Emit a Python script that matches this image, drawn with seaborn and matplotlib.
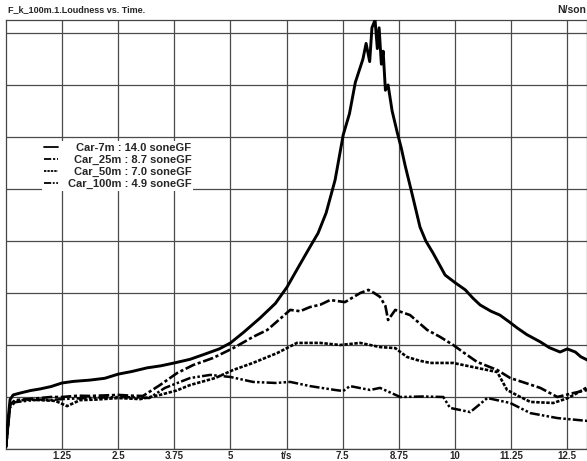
import matplotlib
matplotlib.use("Agg")
import matplotlib.pyplot as plt
import seaborn as sns
import pandas as pd

# ---- data (time in s, loudness in sone) ----
t_7m = [0.0, 0.045, 0.09, 0.16, 0.31, 0.55, 0.76, 1.0, 1.25, 1.5, 1.87, 2.2, 2.5, 2.8, 3.14, 3.45, 3.75,
        4.1, 4.43, 4.75, 5.0, 5.3, 5.66, 6.0, 6.26, 6.5, 6.77, 6.95, 7.13, 7.33, 7.51, 7.65, 7.78, 7.95,
        8.02, 8.1, 8.15, 8.22, 8.27, 8.31, 8.36, 8.4, 8.45, 8.51, 8.6, 8.71, 8.8, 8.89, 9.05, 9.22, 9.35,
        9.51, 9.65, 9.78, 10.0, 10.23, 10.4, 10.56, 10.8, 11.0, 11.2, 11.39, 11.6, 11.9, 12.1, 12.34,
        12.5, 12.68, 12.8, 12.95]
v_7m = [0.08, 1.1, 1.9, 2.08, 2.15, 2.25, 2.31, 2.4, 2.54, 2.6, 2.65, 2.72, 2.88, 2.98, 3.12, 3.2, 3.31,
        3.45, 3.65, 3.85, 4.08, 4.5, 5.04, 5.6, 6.23, 6.96, 7.77, 8.3, 9.08, 10.35, 12.08, 12.9, 14.1, 15.0,
        15.6, 14.9, 16.2, 16.5, 15.4, 16.2, 14.8, 15.3, 13.8, 14.0, 13.0, 12.2, 11.6, 10.9, 9.77, 8.54, 8.0,
        7.54, 7.1, 6.69, 6.4, 6.12, 5.8, 5.54, 5.3, 5.15, 4.9, 4.65, 4.4, 4.12, 3.9, 3.73, 3.85, 3.73,
        3.55, 3.42]

t_25m = [0.0, 0.09, 0.2, 0.5, 0.76, 1.0, 1.25, 1.6, 1.87, 2.2, 2.5, 2.8, 3.05, 3.43, 3.81, 4.17, 4.61,
         5.06, 5.5, 5.82, 6.1, 6.33, 6.55, 6.77, 7.0, 7.22, 7.55, 7.89, 8.07, 8.2, 8.33, 8.45, 8.51, 8.67,
         9.0, 9.2, 9.38, 9.67, 9.96, 10.2, 10.49, 10.94, 11.23, 11.55, 11.9, 12.28, 12.63, 12.95]
v_25m = [0.08, 1.7, 1.88, 1.92, 1.96, 2.0, 2.0, 2.05, 2.04, 2.06, 2.08, 2.05, 2.04, 2.46, 2.92, 3.23, 3.5,
         3.88, 4.31, 4.58, 5.0, 5.35, 5.3, 5.46, 5.55, 5.73, 5.65, 6.0, 6.12, 6.0, 5.85, 5.5, 4.96, 5.35,
         5.15, 4.85, 4.58, 4.31, 4.0, 3.7, 3.35, 3.04, 2.73, 2.55, 2.35, 2.0, 2.15, 2.27]

t_50m = [0.0, 0.09, 0.2, 0.5, 0.76, 1.1, 1.36, 1.65, 2.0, 2.5, 2.99, 3.43, 3.8, 4.1, 4.66, 5.06, 5.5,
         6.04, 6.48, 7.0, 7.44, 7.89, 8.33, 8.67, 8.93, 9.2, 9.45, 9.96, 10.49, 10.94, 11.16, 11.4, 11.68,
         12.19, 12.5, 12.72, 12.95]
v_50m = [0.08, 1.7, 1.85, 1.9, 1.88, 1.85, 1.65, 1.88, 1.9, 1.96, 1.92, 2.08, 2.25, 2.46, 2.73, 3.04, 3.31,
         3.69, 4.08, 4.08, 4.0, 4.08, 3.92, 3.88, 3.54, 3.4, 3.31, 3.31, 3.12, 2.96, 2.27, 2.05, 1.81,
         1.77, 1.95, 2.15, 2.38]

t_100m = [0.0, 0.09, 0.2, 0.5, 0.76, 1.0, 1.25, 1.8, 2.5, 3.0, 3.19, 3.54, 4.1, 4.55, 5.0, 5.5, 6.0, 6.33,
          6.77, 7.33, 7.51, 7.66, 8.11, 8.33, 8.78, 9.3, 9.74, 9.89, 10.34, 10.72, 11.23, 11.68, 12.28,
          12.95]
v_100m = [0.08, 1.6, 1.8, 1.86, 1.9, 1.88, 1.92, 1.96, 2.0, 1.98, 1.96, 2.35, 2.73, 2.85, 2.77, 2.58, 2.54,
          2.58, 2.42, 2.27, 2.23, 2.42, 2.27, 2.35, 2.0, 2.02, 2.0, 1.58, 1.42, 1.96, 1.77, 1.38, 1.19, 1.08]

labels = ["Car-7m : 14.0 soneGF", "Car_25m : 8.7 soneGF", "Car_50m : 7.0 soneGF", "Car_100m : 4.9 soneGF"]
x_ticks = [1.25, 2.5, 3.75, 5, 6.25, 7.5, 8.75, 10, 11.25, 12.5]
x_ticklabels = ["1.25", "2.5", "3.75", "5", "t/s", "7.5", "8.75", "10", "11.25", "12.5"]
y_grid = [0, 2, 4, 6, 8, 10, 12, 14, 16]

sns.set_theme(style="white")
plt.rcParams['font.family'] = ['Liberation Sans', 'DejaVu Sans']

W, H = 587, 461
fig = plt.figure(figsize=(W / 100, H / 100), dpi=100)
ax = fig.add_axes([6 / W, (H - 449) / H, 1 - 6 / W, (449 - 20) / H])

series = [(t_7m, v_7m, '-', 2.1), (t_25m, v_25m, (0, (4, 1.0, 1.2, 1.0)), 1.9),
          (t_50m, v_50m, (0, (1.3, 0.6)), 1.9), (t_100m, v_100m, (0, (4, 0.9, 1, 0.9, 1, 0.9)), 1.8)]
for (t, v, ls, lw), lab in zip(series, labels):
    df = pd.DataFrame({"t": t, "v": v})
    sns.lineplot(data=df, x="t", y="v", ax=ax, color="black", linestyle=ls, linewidth=lw,
                 label=lab, sort=False, estimator=None, zorder=3)

ax.set_xlim(0, 12.94)
ax.set_ylim(0, 16.5)
ax.set_xticks(x_ticks)
ax.set_xticklabels(x_ticklabels, fontsize=7, fontweight='bold')
ax.set_yticks(y_grid)
ax.set_yticklabels([])
ax.tick_params(axis='both', length=0, pad=1.5)
ax.grid(True, color='#4a4a4a', linewidth=0.9)
ax.set_axisbelow(True)
ax.set_xlabel("")
ax.set_ylabel("")
for s in ax.spines.values():
    s.set_color('#444444')
    s.set_linewidth(0.9)

leg = ax.legend(loc='upper left', bbox_to_anchor=(42 / W, 1 - 141 / H), bbox_transform=fig.transFigure,
                frameon=True, facecolor='white', edgecolor='none', framealpha=1, fancybox=False,
                prop={'weight': 'bold', 'size': 8}, handlelength=1.3, handletextpad=0.85,
                labelspacing=0.18, borderpad=0.15, borderaxespad=0)
leg.set_zorder(5)
for h in leg.get_lines():
    h.set_linewidth(1.3)

# right-align the legend texts as in the reference
fig.canvas.draw()
renderer = fig.canvas.get_renderer()
texts = leg.get_texts()
widths = [t.get_window_extent(renderer).width for t in texts]
wmax = max(widths)
for t, w in zip(texts, widths):
    t.set_position((wmax - w, 0))

fig.text(8 / W, 1 - 10 / H, "F_k_100m.1.Loudness vs. Time.", fontsize=6.5, fontweight='bold',
         ha='left', va='center')
fig.text(586 / W, 1 - 10 / H, "N/son", fontsize=7.5, fontweight='bold', ha='right', va='center')

fig.savefig("out.png", dpi=100)
